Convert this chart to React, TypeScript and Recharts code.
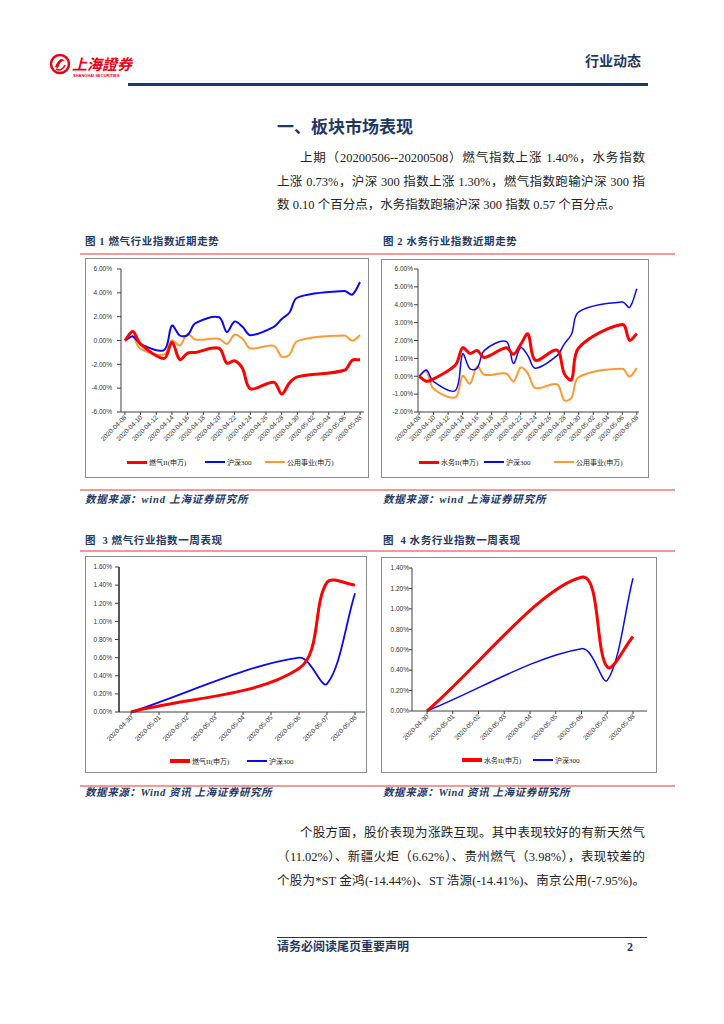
import React from 'react';
import { LineChart, Line, XAxis, YAxis } from 'recharts';

// 图1 / 图2: trading days 2020-04-08 .. 2020-05-08 (cumulative %)
const tradeDates = [
  '2020-04-08', '2020-04-09', '2020-04-10', '2020-04-13', '2020-04-14', '2020-04-15', '2020-04-16',
  '2020-04-17', '2020-04-20', '2020-04-21', '2020-04-22', '2020-04-23', '2020-04-24', '2020-04-27',
  '2020-04-28', '2020-04-29', '2020-04-30', '2020-05-06', '2020-05-07', '2020-05-08',
];
const gasIndex = [0, 0.75, -0.3, -1.5, -0.15, -1.6, -1.05, -1.0, -0.65, -1.9, -1.7, -2.35, -4.05, -3.5, -4.5, -3.55, -3.05, -2.5, -1.65, -1.62];
const waterIndex = [0, -0.28, -0.15, 0.63, 1.6, 1.28, 1.44, 1.05, 1.6, 1.23, 1.78, 2.37, 0.9, 1.46, 0.15, -0.2, 1.6, 2.9, 2.02, 2.39];
const hs300Index = [0, 0.35, -0.3, -0.8, 1.25, 0.42, 0.45, 1.45, 1.95, 0.72, 1.6, 1.15, 0.45, 1.15, 1.8, 2.35, 3.6, 4.15, 3.85, 4.9];
const utilityIndex = [0, 0.28, -0.7, -1.18, 0.02, -0.42, 0.56, 0.08, 0.15, -0.3, 0.48, 0.15, -0.66, -0.45, -1.35, -1.2, -0.05, 0.42, -0.02, 0.45];
const trendTicks = [
  '2020-04-08', '2020-04-10', '2020-04-12', '2020-04-14', '2020-04-16', '2020-04-18', '2020-04-20', '2020-04-22',
  '2020-04-24', '2020-04-26', '2020-04-28', '2020-04-30', '2020-05-02', '2020-05-04', '2020-05-06', '2020-05-08',
];
const gasTrendY = [-6, -4, -2, 0, 2, 4, 6];
const waterTrendY = [-2, -1, 0, 1, 2, 3, 4, 5, 6];

// 图3 / 图4: one week (holidays empty)
const weekDates = ['2020-04-30', '2020-05-01', '2020-05-02', '2020-05-03', '2020-05-04', '2020-05-05', '2020-05-06', '2020-05-07', '2020-05-08'];
const gasWeek = [0, null, null, null, null, null, 0.48, 1.43, 1.4];
const hs300WeekA = [0, null, null, null, null, null, 0.6, 0.31, 1.31];
const waterWeek = [0, null, null, null, null, null, 1.31, 0.43, 0.73];
const hs300WeekB = [0, null, null, null, null, null, 0.61, 0.3, 1.3];
const gasWeekY = [0, 0.2, 0.4, 0.6, 0.8, 1.0, 1.2, 1.4, 1.6];
const waterWeekY = [0, 0.2, 0.4, 0.6, 0.8, 1.0, 1.2, 1.4];

const RED = '#ff0000';
const BLUE = '#0a0af0';
const ORANGE = '#ff9933';
const NAVY = '#1f3864';
const PINK = '#f29a9a';
const AXIS = '#404040';
const TICK_FONT = '"Liberation Sans", Arial, sans-serif';
const CJK = '"Liberation Serif", "Noto Sans CJK SC", serif';

const dayOf = (d: string) => Math.round((Date.parse(d) - Date.parse(tradeDates[0])) / 86400000);

const trendRows = tradeDates.map((date, i) => ({
  day: dayOf(date),
  gas: gasIndex[i],
  water: waterIndex[i],
  hs300: hs300Index[i],
  utility: utilityIndex[i],
}));
const gasWeekRows = weekDates.map((date, i) => ({ date, gas: gasWeek[i], hs300: hs300WeekA[i] }));
const waterWeekRows = weekDates.map((date, i) => ({ date, water: waterWeek[i], hs300: hs300WeekB[i] }));

// excel-like smoothed line (chord weighted catmull-rom)
function excelSmooth(context: any) {
  let pts: number[][] = [];
  const len = (a: number[], b: number[]) => Math.hypot(b[0] - a[0], b[1] - a[1]);
  return {
    areaStart() {},
    areaEnd() {},
    lineStart() {
      pts = [];
    },
    point(x: number, y: number) {
      pts.push([+x, +y]);
    },
    lineEnd() {
      const n = pts.length;
      if (!n) return;
      context.moveTo(pts[0][0], pts[0][1]);
      for (let i = 0; i < n - 1; i++) {
        const p0 = pts[Math.max(i - 1, 0)];
        const p1 = pts[i];
        const p2 = pts[i + 1];
        const p3 = pts[Math.min(i + 2, n - 1)];
        const l01 = len(p0, p1);
        const l12 = len(p1, p2);
        const l23 = len(p2, p3);
        const a = l01 + l12 > 0 ? l12 / (l01 + l12) / 3 : 0;
        const b = l12 + l23 > 0 ? l12 / (l12 + l23) / 3 : 0;
        context.bezierCurveTo(
          p1[0] + (p2[0] - p0[0]) * a, p1[1] + (p2[1] - p0[1]) * a,
          p2[0] - (p3[0] - p1[0]) * b, p2[1] - (p3[1] - p1[1]) * b,
          p2[0], p2[1],
        );
      }
    },
  };
}

const pct = (v: number) => `${v.toFixed(2)}%`;

function SlantTick({ x, y, payload, labels }: any) {
  const label = labels ? labels.find((t: string) => dayOf(t) === payload.value) : payload.value;
  return (
    <text
      transform={`translate(${x + 2},${y + 1}) rotate(-45)`}
      textAnchor="end"
      fontSize={6.5}
      fill="#333"
      fontFamily={TICK_FONT}
    >
      {label}
    </text>
  );
}

function LegendItem({ left, top, color, label, lw }: any) {
  return (
    <div style={{ position: 'absolute', left, top, display: 'flex', alignItems: 'center', height: 10 }}>
      <div style={{ width: 20, height: lw, background: color, marginRight: 2 }} />
      <span style={{ fontSize: 7, color: '#222', fontFamily: CJK, whiteSpace: 'nowrap' }}>{label}</span>
    </div>
  );
}

const Txt = ({ left, top, size, color = '#222', bold, italic, spacing = 0, children }: any) => (
  <div
    style={{
      position: 'absolute',
      left,
      top,
      fontSize: size,
      lineHeight: 1,
      color,
      fontWeight: bold ? 700 : 400,
      fontStyle: italic ? 'italic' : 'normal',
      fontFamily: CJK,
      letterSpacing: spacing,
      whiteSpace: 'nowrap',
    }}
  >
    {children}
  </div>
);

const Rule = ({ left, top, width, h = 2, color = PINK }: any) => (
  <div style={{ position: 'absolute', left, top, width, height: h, background: color }} />
);

const ParaLine = ({ left, top, width, last, children }: any) => (
  <div
    style={{
      position: 'absolute',
      left,
      top,
      width,
      fontSize: 12.5,
      lineHeight: '16px',
      color: '#222',
      fontFamily: CJK,
      whiteSpace: 'nowrap',
      textAlign: 'justify',
      textAlignLast: last ? 'left' : 'justify',
    }}
  >
    {children}
  </div>
);

const boxStyle = (left: number, top: number, width: number, height: number): React.CSSProperties => ({
  position: 'absolute',
  left,
  top,
  width,
  height,
  border: '1px solid #8c8c8c',
  boxSizing: 'border-box',
  background: '#fff',
});

const yTickStyle = { fontSize: 6.5, fill: '#333', fontFamily: TICK_FONT };

export default function App() {
  const trendDays = trendTicks.map(dayOf);
  return (
    <div style={{ position: 'absolute', left: 0, top: 0, width: 724, height: 1024, background: '#fff', overflow: 'hidden' }}>
      {/* header */}
      <svg style={{ position: 'absolute', left: 48, top: 50 }} width={100} height={32}>
        <circle cx={12} cy={14} r={9} fill="none" stroke="#e60012" strokeWidth={2.5} />
        <path d="M7 17 Q12 5 17 11 Q13 9 10 18 Z" fill="#e60012" />
        <path d="M8 19 Q14 22 17 15" fill="none" stroke="#e60012" strokeWidth={1.5} />
        <text x={24} y={20} fontSize={15} fontWeight={700} fill="#e60012" fontFamily={CJK} fontStyle="italic">上海證券</text>
        <text x={25} y={27} fontSize={4} fontWeight={700} fill="#e60012" fontFamily={TICK_FONT}>SHANGHAI SECURITIES</text>
      </svg>
      <Txt left={585} top={55} size={14} color={NAVY} bold>行业动态</Txt>
      <Rule left={128} top={83} width={520} h={3} color={NAVY} />

      {/* section 1 */}
      <Txt left={277} top={119} size={17} color={NAVY} bold>一、板块市场表现</Txt>
      <ParaLine left={300} top={150} width={345}>上期（20200506--20200508）燃气指数上涨 1.40%，水务指数</ParaLine>
      <ParaLine left={277} top={174} width={368}>上涨 0.73%，沪深 300 指数上涨 1.30%，燃气指数跑输沪深 300 指</ParaLine>
      <ParaLine left={277} top={197} width={368} last>数 0.10 个百分点，水务指数跑输沪深 300 指数 0.57 个百分点。</ParaLine>

      {/* figure titles 1/2 */}
      <Txt left={85} top={237} size={10.5} spacing={0.6} color={NAVY} bold>图 1 燃气行业指数近期走势</Txt>
      <Txt left={383} top={237} size={10.5} spacing={0.6} color={NAVY} bold>图 2 水务行业指数近期走势</Txt>
      <Rule left={80} top={253} width={595} />

      {/* 图1 */}
      <div style={boxStyle(85, 258, 284, 220)}>
        <LineChart width={282} height={218} data={trendRows} margin={{ top: 10, right: 4, bottom: 0, left: 0 }}>
          <XAxis
            type="number"
            dataKey="day"
            domain={[-0.5, 30.5]}
            ticks={trendDays}
            interval={0}
            height={65}
            tickSize={3}
            axisLine={{ stroke: AXIS }}
            tickLine={{ stroke: AXIS }}
            tick={<SlantTick labels={trendTicks} />}
          />
          <YAxis
            domain={[-6, 6]}
            ticks={gasTrendY}
            interval={0}
            width={35}
            tickSize={4}
            tickMargin={5}
            tickFormatter={pct}
            axisLine={{ stroke: AXIS }}
            tickLine={{ stroke: AXIS }}
            tick={yTickStyle}
          />
          <Line dataKey="utility" type={excelSmooth as any} stroke={ORANGE} strokeWidth={2} dot={false} isAnimationActive={false} />
          <Line dataKey="hs300" type={excelSmooth as any} stroke={BLUE} strokeWidth={2} dot={false} isAnimationActive={false} />
          <Line dataKey="gas" type={excelSmooth as any} stroke={RED} strokeWidth={3} dot={false} isAnimationActive={false} />
        </LineChart>
      </div>
      <LegendItem left={127} top={457} color={RED} lw={3} label="燃气II(申万)" />
      <LegendItem left={205} top={457} color={BLUE} lw={2} label="沪深300" />
      <LegendItem left={265} top={457} color={ORANGE} lw={2} label="公用事业(申万)" />

      {/* 图2 */}
      <div style={boxStyle(381, 259, 268, 219)}>
        <LineChart width={266} height={217} data={trendRows} margin={{ top: 9, right: 9, bottom: 0, left: 0 }}>
          <XAxis
            type="number"
            dataKey="day"
            domain={[-0.15, 30.3]}
            ticks={trendDays}
            interval={0}
            height={65}
            tickSize={3}
            axisLine={{ stroke: AXIS }}
            tickLine={{ stroke: AXIS }}
            tick={<SlantTick labels={trendTicks} />}
          />
          <YAxis
            domain={[-2, 6]}
            ticks={waterTrendY}
            interval={0}
            width={36}
            tickSize={4}
            tickMargin={1}
            tickFormatter={pct}
            axisLine={{ stroke: AXIS }}
            tickLine={{ stroke: AXIS }}
            tick={yTickStyle}
          />
          <Line dataKey="utility" type={excelSmooth as any} stroke={ORANGE} strokeWidth={2} dot={false} isAnimationActive={false} />
          <Line dataKey="hs300" type={excelSmooth as any} stroke={BLUE} strokeWidth={1.5} dot={false} isAnimationActive={false} />
          <Line dataKey="water" type={excelSmooth as any} stroke={RED} strokeWidth={3} dot={false} isAnimationActive={false} />
        </LineChart>
      </div>
      <LegendItem left={419} top={457} color={RED} lw={3} label="水务II(申万)" />
      <LegendItem left={484} top={457} color={BLUE} lw={1.5} label="沪深300" />
      <LegendItem left={554} top={457} color={ORANGE} lw={2} label="公用事业(申万)" />

      <Rule left={80} top={489} width={595} />
      <Txt left={85} top={495} size={10.5} spacing={0.8} color={NAVY} bold italic>数据来源：wind 上海证券研究所</Txt>
      <Txt left={383} top={495} size={10.5} spacing={0.8} color={NAVY} bold italic>数据来源：wind 上海证券研究所</Txt>

      {/* figure titles 3/4 */}
      <Txt left={85} top={536} size={10.5} spacing={0.6} color={NAVY} bold>图&nbsp;&nbsp;3 燃气行业指数一周表现</Txt>
      <Txt left={383} top={536} size={10.5} spacing={0.6} color={NAVY} bold>图&nbsp;&nbsp;4 水务行业指数一周表现</Txt>
      <Rule left={80} top={550} width={595} />

      {/* 图3 */}
      <div style={boxStyle(85, 556, 282, 217)}>
        <LineChart width={280} height={215} data={gasWeekRows} margin={{ top: 10, right: 1, bottom: 0, left: 0 }}>
          <XAxis
            dataKey="date"
            interval={0}
            height={60}
            tickSize={3}
            padding={{ left: 12, right: 10 }}
            axisLine={{ stroke: AXIS }}
            tickLine={{ stroke: AXIS }}
            tick={<SlantTick />}
          />
          <YAxis
            domain={[0, 1.6]}
            ticks={gasWeekY}
            interval={0}
            width={33}
            tickSize={4}
            tickMargin={3}
            tickFormatter={pct}
            axisLine={{ stroke: '#222', strokeWidth: 1.5 }}
            tickLine={{ stroke: AXIS }}
            tick={yTickStyle}
          />
          <Line dataKey="hs300" type={excelSmooth as any} stroke={BLUE} strokeWidth={1.8} dot={false} connectNulls isAnimationActive={false} />
          <Line dataKey="gas" type={excelSmooth as any} stroke={RED} strokeWidth={3} dot={false} connectNulls isAnimationActive={false} />
        </LineChart>
      </div>
      <LegendItem left={170} top={756} color={RED} lw={3.5} label="燃气II(申万)" />
      <LegendItem left={247} top={756} color={BLUE} lw={1.8} label="沪深300" />

      {/* 图4 */}
      <div style={boxStyle(381, 557, 276, 216)}>
        <LineChart width={274} height={214} data={waterWeekRows} margin={{ top: 10, right: 9, bottom: 0, left: 0 }}>
          <XAxis
            dataKey="date"
            interval={0}
            height={61}
            tickSize={3}
            padding={{ left: 15, right: 14 }}
            axisLine={{ stroke: AXIS }}
            tickLine={{ stroke: AXIS }}
            tick={<SlantTick />}
          />
          <YAxis
            domain={[0, 1.4]}
            ticks={waterWeekY}
            interval={0}
            width={30}
            tickSize={3}
            tickMargin={0}
            tickFormatter={pct}
            axisLine={{ stroke: AXIS }}
            tickLine={{ stroke: AXIS }}
            tick={yTickStyle}
          />
          <Line dataKey="hs300" type={excelSmooth as any} stroke={BLUE} strokeWidth={1.5} dot={false} connectNulls isAnimationActive={false} />
          <Line dataKey="water" type={excelSmooth as any} stroke={RED} strokeWidth={3} dot={false} connectNulls isAnimationActive={false} />
        </LineChart>
      </div>
      <LegendItem left={462} top={755} color={RED} lw={3.5} label="水务II(申万)" />
      <LegendItem left={533} top={755} color={BLUE} lw={1.5} label="沪深300" />

      <Rule left={80} top={785} width={595} />
      <Txt left={85} top={788} size={10.5} spacing={0.6} color={NAVY} bold italic>数据来源：Wind 资讯 上海证券研究所</Txt>
      <Txt left={383} top={788} size={10.5} spacing={0.6} color={NAVY} bold italic>数据来源：Wind 资讯 上海证券研究所</Txt>

      {/* section text 2 */}
      <ParaLine left={300} top={825} width={345}>个股方面，股价表现为涨跌互现。其中表现较好的有新天然气</ParaLine>
      <ParaLine left={277} top={849} width={368}>（11.02%）、新疆火炬（6.62%）、贵州燃气（3.98%），表现较差的</ParaLine>
      <ParaLine left={277} top={873} width={368}>个股为*ST 金鸿(-14.44%)、ST 浩源(-14.41%)、南京公用(-7.95%)。</ParaLine>

      {/* footer */}
      <Rule left={277} top={937} width={370} h={1} color="#333" />
      <Txt left={277} top={941} size={12} color={NAVY} bold>请务必阅读尾页重要声明</Txt>
      <Txt left={627} top={941} size={12} color={NAVY} bold>2</Txt>
    </div>
  );
}
